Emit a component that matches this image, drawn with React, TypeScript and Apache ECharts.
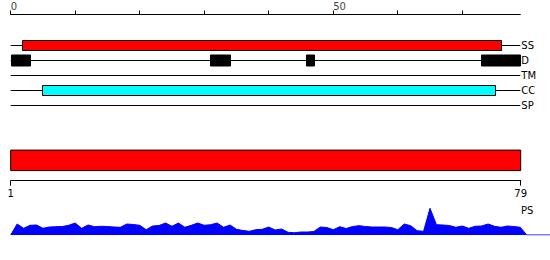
import React, { useEffect, useRef } from "react";
import * as echarts from "echarts";

const seqLength = 79;
const trackNames = ["SS", "D", "TM", "CC", "SP"];
const ssSegments = [[1.8, 76.0]];
const dSegments = [[0, 3.0], [30.9, 34.0], [45.8, 47.0], [72.9, 79]];
const tmSegments: number[][] = [];
const ccSegments = [[4.9, 75.1]];
const spSegments: number[][] = [];
const topTicks = [0, 10, 20, 30, 40, 50, 60, 70];
const topLabels = [0, 50];
const chainLabels = [1, 79];
const psProfile = [
  0, 11, 6.7, 9.7, 10, 6.7, 8, 8.3, 8.5, 9.7,
  12, 6.7, 10, 8.3, 8.7, 8.5, 8, 7.7, 11, 10.5,
  9.7, 5.3, 9, 9.5, 12, 8.7, 12, 7.7, 9.7, 12,
  9.7, 10.3, 12, 7.7, 10, 5.7, 4.5, 3.7, 5.3, 5.7,
  8, 5, 6, 2.7, 2.3, 3, 3, 3.5, 8, 7.5,
  5.3, 8.3, 6.5, 8.5, 9.3, 8.5, 8, 8, 8, 7.5,
  5.3, 11, 9.3, 4.3, 3.7, 26.7, 10.3, 10, 9.5, 7.7,
  9, 6.7, 8.7, 9, 11, 8.7, 7.7, 9, 8.5, 7.7,
  0,
];

const FONT = "DejaVu Sans";

export default function App() {
  const ref = useRef<HTMLDivElement>(null);
  useEffect(() => {
    if (!ref.current) return;
    const chart = echarts.init(ref.current, null, { renderer: "svg" });

    const segs: any[] = [];
    const addSegs = (row: number, list: number[][]) =>
      list.forEach((s) => segs.push([row, s[0], s[1]]));
    addSegs(0, ssSegments);
    addSegs(1, dSegments);
    addSegs(2, tmSegments);
    addSegs(3, ccSegments);
    addSegs(4, spSegments);
    const rowStyle: Record<number, { fill: string; h: number; stroke: string }> = {
      0: { fill: "#ff0000", h: 10, stroke: "#000" },
      1: { fill: "#000000", h: 11, stroke: "#000" },
      2: { fill: "#ffff00", h: 10, stroke: "#000" },
      3: { fill: "#00ffff", h: 10, stroke: "#000" },
      4: { fill: "#00ff00", h: 10, stroke: "#000" },
    };

    const rowLines = trackNames.map((_, i) => [i, 0, seqLength]);

    const profileData = psProfile.map((v, k) => [k, v]);
    profileData.push([83.6, 0]);

    chart.setOption({
      animation: false,
      grid: [
        { left: 10.7, right: 29.7, top: 37.5, height: 75 },
        { left: 10.7, right: 29.3, top: 140, height: 40.7 },
        { left: 10.7, right: 0, top: 205, height: 30 },
      ],
      xAxis: [
        {
          gridIndex: 0,
          type: "value",
          position: "top",
          offset: 23,
          min: 0,
          max: seqLength,
          axisLine: { show: true, lineStyle: { color: "#000", width: 1 } },
          axisTick: { show: true, length: 4, customValues: topTicks, lineStyle: { color: "#000" } },
          axisLabel: {
            show: true,
            customValues: topLabels,
            align: "left",
            margin: 3,
            fontSize: 10,
            fontFamily: FONT,
            color: "#444",
          },
          splitLine: { show: false },
        },
        {
          gridIndex: 1,
          type: "value",
          position: "bottom",
          min: 1,
          max: seqLength,
          axisLine: { show: true, lineStyle: { color: "#000", width: 1 } },
          axisTick: { show: true, length: 5, customValues: chainLabels, lineStyle: { color: "#000" } },
          axisLabel: {
            show: true,
            customValues: chainLabels,
            margin: 8,
            fontSize: 10,
            fontFamily: FONT,
            color: "#000",
          },
          splitLine: { show: false },
        },
        {
          gridIndex: 2,
          type: "value",
          min: 0,
          max: 83.6,
          show: false,
        },
      ],
      yAxis: [
        {
          gridIndex: 0,
          type: "category",
          data: trackNames,
          inverse: true,
          position: "right",
          axisLine: { show: false },
          axisTick: { show: false },
          axisLabel: { margin: 1, fontSize: 10, fontFamily: FONT, color: "#000", align: "left" },
          splitLine: { show: false },
        },
        {
          gridIndex: 1,
          type: "category",
          data: ["PS"],
          show: false,
        },
        {
          gridIndex: 2,
          type: "value",
          min: 0,
          max: 30,
          show: false,
        },
      ],
      graphic: [
        {
          type: "text",
          left: 521,
          top: 205,
          style: { text: "PS", fontSize: 10, fontFamily: FONT, fill: "#000" },
        },
      ],
      series: [
        {
          type: "custom",
          xAxisIndex: 0,
          yAxisIndex: 0,
          encode: { x: [1, 2], y: 0 },
          data: rowLines,
          renderItem: (params: any, api: any) => {
            const a = api.coord([api.value(1), api.value(0)]);
            const b = api.coord([api.value(2), api.value(0)]);
            return {
              type: "line",
              shape: { x1: a[0], y1: Math.round(a[1]) + 0.5, x2: b[0], y2: Math.round(a[1]) + 0.5 },
              style: { stroke: "#000", lineWidth: 1 },
            };
          },
          z: 1,
        },
        {
          type: "custom",
          xAxisIndex: 0,
          yAxisIndex: 0,
          encode: { x: [1, 2], y: 0 },
          data: segs,
          renderItem: (params: any, api: any) => {
            const row = api.value(0);
            const st = rowStyle[row];
            const a = api.coord([api.value(1), row]);
            const b = api.coord([api.value(2), row]);
            const cy = Math.round(a[1]);
            return {
              type: "rect",
              shape: { x: Math.round(a[0]) + 0.5, y: cy - st.h / 2 + 0.5, width: Math.round(b[0] - a[0]), height: st.h },
              style: { fill: st.fill, stroke: st.stroke, lineWidth: 1 },
            };
          },
          z: 2,
        },
        {
          type: "custom",
          xAxisIndex: 1,
          yAxisIndex: 1,
          encode: { x: [1, 2], y: 0 },
          data: [[0, 1, seqLength]],
          renderItem: (params: any, api: any) => {
            const a = api.coord([api.value(1), 0]);
            const b = api.coord([api.value(2), 0]);
            const h = 20.5;
            return {
              type: "rect",
              shape: { x: a[0], y: a[1] - h / 2, width: b[0] - a[0], height: h },
              style: { fill: "#ff0000", stroke: "#000", lineWidth: 1 },
            };
          },
        },
        {
          type: "line",
          xAxisIndex: 2,
          yAxisIndex: 2,
          data: profileData,
          showSymbol: false,
          symbol: "none",
          lineStyle: { color: "#0000ff", width: 1 },
          areaStyle: { color: "#0000ff", opacity: 1 },
        },
      ],
    });
    return () => chart.dispose();
  }, []);
  return <div ref={ref} style={{ width: 550, height: 260, position: "absolute", left: 0, top: 0 }} />;
}
